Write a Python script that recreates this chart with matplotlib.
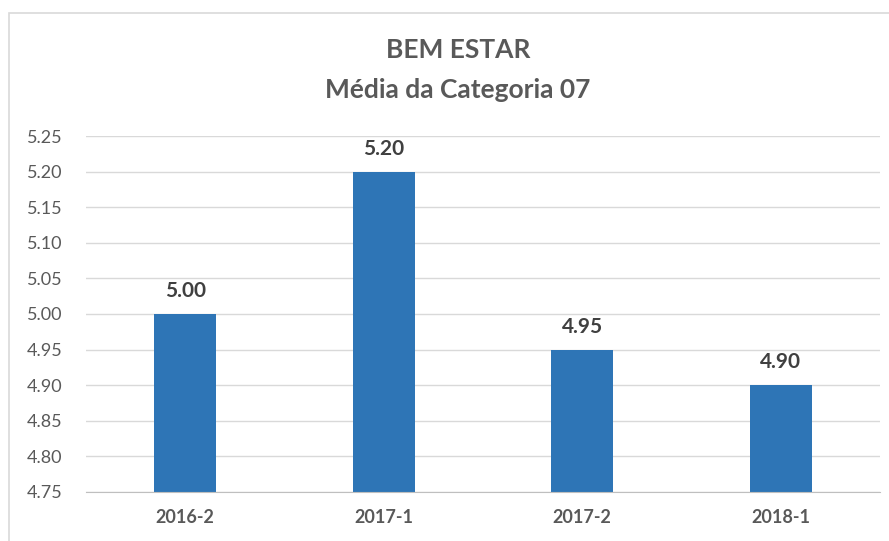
import matplotlib
matplotlib.use("Agg")
import matplotlib.pyplot as plt
from matplotlib.patches import Rectangle

# data
periods = ["2016-2", "2017-1", "2017-2", "2018-1"]
means = [5.00, 5.20, 4.95, 4.90]
y_ticks = [4.75, 4.80, 4.85, 4.90, 4.95, 5.00, 5.05, 5.10, 5.15, 5.20, 5.25]

BAR = "#2E75B6"
TXT = "#595959"
plt.rcParams["font.family"] = ["Lato", "DejaVu Sans"]

fig = plt.figure(figsize=(8.89, 5.41), dpi=100)
ax = fig.add_axes([0.0967, 0.0906, 0.893, 0.658])

# chart frame (cropped on right/bottom)
fig.patches.append(Rectangle((9 / 889, -0.1), 1.2, 1 - 13 / 541 + 0.1,
                             transform=fig.transFigure, fill=False,
                             edgecolor="#d9d9d9", linewidth=1.2))

x = range(len(periods))
ax.bar(x, means, width=0.312, color=BAR, zorder=3)
for xi, v in zip(x, means):
    ax.text(xi, v + 0.018, f"{v:.2f}", ha="center", va="bottom",
            fontsize=15, fontweight="bold", color="#404040")

ax.set_xlim(-0.5, len(periods) - 0.5)
ax.set_ylim(4.75, 5.25)
ax.set_yticks(y_ticks)
ax.set_yticklabels([f"{t:.2f}" for t in y_ticks], fontsize=13, color=TXT)
ax.set_xticks(list(x))
ax.set_xticklabels(periods, fontsize=13, fontweight="bold", color=TXT)
ax.tick_params(axis="both", length=0)
ax.tick_params(axis="y", pad=17)
ax.tick_params(axis="x", pad=12)
ax.grid(axis="y", color="#d9d9d9", linewidth=1, zorder=0)
for s in ["top", "right", "left"]:
    ax.spines[s].set_visible(False)
ax.spines["bottom"].set_color("#bfbfbf")
ax.spines["bottom"].set_zorder(4)

fig.text(458 / 889, 1 - 50 / 541, "BEM ESTAR", ha="center", va="center",
         fontsize=19, fontweight="bold", color=TXT)
fig.text(458 / 889, 1 - 90 / 541, "Média da Categoria 07", ha="center", va="center",
         fontsize=19, fontweight="bold", color=TXT)

fig.savefig("out.png", dpi=100)
